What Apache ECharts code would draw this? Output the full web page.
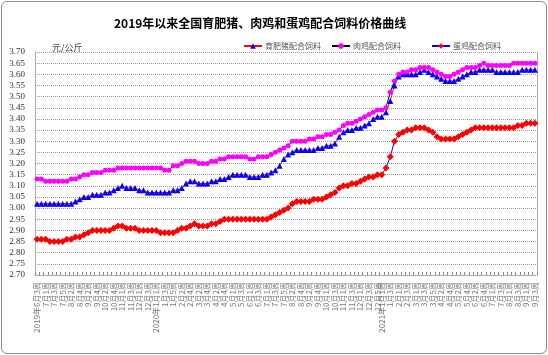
<!DOCTYPE html>
<html><head><meta charset="utf-8">
<script src="https://cdn.jsdelivr.net/npm/echarts@6/dist/echarts.min.js"></script>
<style>
html,body{margin:0;padding:0;background:#fff;}
#wrap{position:relative;width:548px;height:355px;}
#chart{position:absolute;left:0;top:0;width:548px;height:355px;}
#frame{position:absolute;left:1px;top:1px;width:544px;height:351px;border:1px solid #8c8c8c;border-radius:6px;pointer-events:none;}
</style></head>
<body><div id="wrap"><div id="chart"></div><div id="frame"></div></div>
<script>
// [year, month, firstWeek, lastWeek]
const monthWeeks = [
 [2019,6,3,4],[2019,7,1,5],[2019,8,1,4],[2019,9,1,4],[2019,10,1,5],[2019,11,1,4],[2019,12,1,4],
 [2020,1,1,5],[2020,2,1,4],[2020,3,1,4],[2020,4,1,5],[2020,5,1,4],[2020,6,1,4],[2020,7,1,5],
 [2020,8,1,4],[2020,9,1,5],[2020,10,1,4],[2020,11,1,4],[2020,12,1,5],
 [2021,1,1,4],[2021,2,1,4],[2021,3,1,5],[2021,4,1,4],[2021,5,1,4],[2021,6,1,5],[2021,7,1,4],
 [2021,8,1,4],[2021,9,1,3]
];
const categories = [];
let lastYear = null;
monthWeeks.forEach(function(m){
  for (let w = m[2]; w <= m[3]; w++) {
    const yr = (m[0] !== lastYear) ? (m[0] + '年') : '';
    lastYear = m[0];
    categories.push(yr + m[1] + '月' + w + '周');
  }
});

const pigFeed = [
 3.02,3.02,3.02,3.02,3.02,3.02,3.02,3.02,3.02,3.03,
 3.04,3.05,3.05,3.06,3.06,3.06,3.07,3.07,3.08,3.09,
 3.10,3.09,3.09,3.09,3.08,3.08,3.07,3.07,3.07,3.07,
 3.07,3.07,3.08,3.08,3.09,3.11,3.12,3.12,3.11,3.11,
 3.11,3.12,3.12,3.13,3.13,3.14,3.15,3.15,3.15,3.15,
 3.14,3.14,3.14,3.15,3.15,3.16,3.17,3.19,3.22,3.24,
 3.25,3.26,3.26,3.26,3.26,3.26,3.27,3.27,3.28,3.28,
 3.29,3.32,3.34,3.35,3.35,3.36,3.36,3.37,3.38,3.40,
 3.41,3.41,3.43,3.48,3.55,3.59,3.60,3.60,3.60,3.60,
 3.61,3.62,3.61,3.60,3.59,3.58,3.57,3.57,3.57,3.58,
 3.59,3.60,3.61,3.61,3.62,3.62,3.62,3.62,3.61,3.61,
 3.61,3.61,3.61,3.61,3.62,3.62,3.62,3.62
];
const broilerFeed = [
 3.13,3.13,3.12,3.12,3.12,3.12,3.12,3.12,3.13,3.13,
 3.14,3.15,3.15,3.16,3.16,3.16,3.17,3.17,3.17,3.18,
 3.18,3.18,3.18,3.18,3.18,3.18,3.18,3.18,3.18,3.18,
 3.17,3.17,3.19,3.19,3.20,3.21,3.21,3.21,3.20,3.20,
 3.20,3.21,3.21,3.22,3.22,3.23,3.23,3.23,3.23,3.23,
 3.22,3.22,3.23,3.23,3.23,3.24,3.25,3.26,3.27,3.28,
 3.30,3.30,3.30,3.30,3.31,3.31,3.32,3.32,3.33,3.33,
 3.34,3.35,3.37,3.38,3.38,3.39,3.40,3.41,3.42,3.43,
 3.44,3.44,3.45,3.52,3.57,3.60,3.61,3.61,3.62,3.62,
 3.63,3.63,3.63,3.62,3.61,3.60,3.59,3.59,3.60,3.61,
 3.62,3.63,3.63,3.63,3.64,3.65,3.64,3.64,3.64,3.64,
 3.64,3.64,3.65,3.65,3.65,3.65,3.65,3.65
];
const layerFeed = [
 2.86,2.86,2.86,2.85,2.85,2.85,2.85,2.86,2.86,2.87,
 2.87,2.88,2.89,2.90,2.90,2.90,2.90,2.90,2.91,2.92,
 2.92,2.91,2.91,2.91,2.90,2.90,2.90,2.90,2.90,2.89,
 2.89,2.89,2.89,2.90,2.91,2.91,2.92,2.93,2.92,2.92,
 2.92,2.93,2.93,2.94,2.95,2.95,2.95,2.95,2.95,2.95,
 2.95,2.95,2.95,2.95,2.95,2.96,2.97,2.98,2.99,3.00,
 3.02,3.03,3.03,3.03,3.03,3.04,3.04,3.04,3.05,3.06,
 3.07,3.09,3.10,3.10,3.11,3.11,3.12,3.13,3.14,3.14,
 3.15,3.15,3.18,3.23,3.30,3.33,3.34,3.35,3.35,3.36,
 3.36,3.36,3.35,3.34,3.32,3.31,3.31,3.31,3.31,3.32,
 3.33,3.34,3.35,3.36,3.36,3.36,3.36,3.36,3.36,3.36,
 3.36,3.36,3.36,3.37,3.37,3.38,3.38,3.38
];
const seriesNames = ['育肥猪配合饲料','肉鸡配合饲料','蛋鸡配合饲料'];
const titleText = '2019年以来全国育肥猪、肉鸡和蛋鸡配合饲料价格曲线';
const unitText = '元/公斤';
const yMin = 2.70, yMax = 3.70, yStep = 0.05;

const y2021 = categories.findIndex(function(c){ return c.indexOf('2021') === 0; });

const chart = echarts.init(document.getElementById('chart'), null, {renderer:'canvas'});
const cjk = '"Noto Sans CJK SC", "Noto Sans", sans-serif';
const legendBase = {
  top: 37, itemWidth: 18, itemHeight: 7, itemGap: 0,
  textStyle: {fontFamily: cjk, fontSize: 8, color: '#555', padding: [0,0,0,-2]}
};
chart.setOption({
  animation: false,
  backgroundColor: '#fff',
  title: [
    {text: titleText, left: 109, top: 12,
     textStyle: {fontFamily: cjk, fontSize: 12, fontWeight: 'bold', color: '#000'}},
    {text: unitText, left: 47, top: 38,
     textStyle: {fontFamily: cjk, fontSize: 9, fontWeight: 'normal', color: '#444'}}
  ],
  legend: [
    Object.assign({left: 238, data: [seriesNames[0]]}, legendBase),
    Object.assign({left: 326, data: [seriesNames[1]]}, legendBase),
    Object.assign({left: 426, data: [seriesNames[2]]}, legendBase)
  ],
  grid: {left: 35, right: 11, top: 52, bottom: 80, containLabel: false},
  xAxis: {
    type: 'category', data: categories, boundaryGap: true,
    axisLine: {show: true, lineStyle: {color: '#999', type: 'dotted', width: 1}},
    axisTick: {show: true, inside: true, length: 3, interval: 0, lineStyle: {color: '#888'}},
    axisLabel: {
      rotate: 90, fontFamily: cjk, fontSize: 8, color: '#777', margin: 7,
      interval: function(i){ return i < y2021 ? (i % 2 === 0) : ((i - y2021) % 2 === 0); }
    },
    splitLine: {show: false}
  },
  yAxis: [
    {type: 'value', min: yMin, max: yMax, interval: yStep,
     axisLine: {show: true, lineStyle: {color: '#999', type: 'dotted'}},
     axisTick: {show: false},
     axisLabel: {fontFamily: '"Liberation Serif", serif', fontSize: 9, color: '#333', margin: 10,
       formatter: function(v){ return v.toFixed(2); }},
     splitLine: {show: true, lineStyle: {color: '#999', type: 'dotted', width: 1}}},
    {type: 'value', position: 'right', min: yMin, max: yMax, interval: yStep,
     axisLine: {show: true, lineStyle: {color: '#999', type: 'dotted'}},
     axisTick: {show: false}, axisLabel: {show: false}, splitLine: {show: false}}
  ],
  series: [
    {name: seriesNames[0], type: 'line', data: pigFeed, yAxisIndex: 0,
     symbol: 'triangle', symbolSize: 6, showAllSymbol: true,
     lineStyle: {color: '#ff0000', width: 1}, itemStyle: {color: '#0000ff'}},
    {name: seriesNames[1], type: 'line', data: broilerFeed, yAxisIndex: 0,
     symbol: 'circle', symbolSize: 5, showAllSymbol: true,
     lineStyle: {color: '#000000', width: 1}, itemStyle: {color: '#ff00ff'}},
    {name: seriesNames[2], type: 'line', data: layerFeed, yAxisIndex: 0,
     symbol: 'diamond', symbolSize: 7, showAllSymbol: true,
     lineStyle: {color: '#0000ff', width: 1}, itemStyle: {color: '#ff0000'}}
  ]
});
</script></body></html>
